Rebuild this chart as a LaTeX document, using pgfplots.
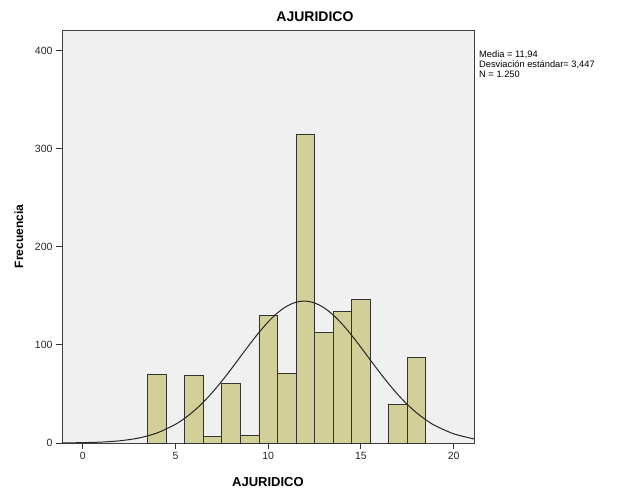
\documentclass[border=0pt]{standalone}
\usepackage{pgfplots}
\pgfplotsset{compat=1.18}
\usepackage{fontspec}
\setmainfont{Liberation Sans}
\definecolor{barfill}{HTML}{D3CF98}
\definecolor{plotbg}{HTML}{F0F0F0}
\begin{document}
\begin{tikzpicture}[x=1pt,y=1pt]
\useasboundingbox (0,0) rectangle (619,491);
\begin{axis}[
  at={(62pt,48pt)}, anchor=south west,
  scale only axis, width=412pt, height=413pt,
  xmin=-1.12, xmax=21.1, ymin=0, ymax=421,
  xtick={0,5,...,20}, ytick={0,100,...,400},
  tick align=outside, major tick length=6pt,
  xtick pos=bottom, ytick pos=left,
  axis line style={black!75, line width=0.8pt},
  tick style={black!80, line width=1pt},
  axis background/.style={fill=plotbg},
  /pgf/number format/assume math mode=true,
  ticklabel style={font=\fontsize{10.5}{12}\selectfont, text=black!85},
  xlabel={AJURIDICO}, ylabel={Frecuencia},
  xlabel style={font=\bfseries\fontsize{13}{15}\selectfont, at={(axis description cs:0.5,-0.094)}, anchor=center},
  ylabel style={font=\bfseries\fontsize{12}{14}\selectfont, at={(axis description cs:-0.105,0.5)}, anchor=center},
]
\addplot[ybar, bar width=1, fill=barfill, draw=black!80, line width=0.8pt] coordinates {
  (4,70) (6,69) (7,7) (8,61) (9,8) (10,130) (11,71) (12,315)
  (13,113) (14,134) (15,146) (17,39) (18,87)
};
\addplot[smooth, black!85, line width=1pt] coordinates {
  (-1.12,0.11) (-1,0.13) (0,0.36) (1,0.94) (2,2.26) (3,5.01) (4,10.19)
  (5,19.07) (5.5,25.26) (6,32.77) (6.5,41.64) (7,51.81) (7.5,63.11)
  (8,75.27) (8.5,87.93) (9,100.56) (9.5,112.61) (10,123.48) (10.5,132.58)
  (11,139.39) (11.5,143.50) (12,144.65) (12.5,142.77) (13,137.99)
  (13.5,130.59) (14,121.02) (14.5,109.80) (15,97.55) (15.5,84.87)
  (16,72.29) (16.5,60.30) (17,49.26) (17.5,39.39) (18,30.84) (18.5,23.65)
  (19,17.76) (20,9.40) (21,4.57) (21.1,4.24)
};
\end{axis}
\node[font=\bfseries\fontsize{14}{16}\selectfont] at (315,474) {AJURIDICO};
\node[anchor=north west, align=left, inner sep=0pt, font=\fontsize{9.3}{9.6}\selectfont] at (479,440) {Media = 11,94\\Desviación estándar= 3,447\\N = 1.250};
\end{tikzpicture}
\end{document}
